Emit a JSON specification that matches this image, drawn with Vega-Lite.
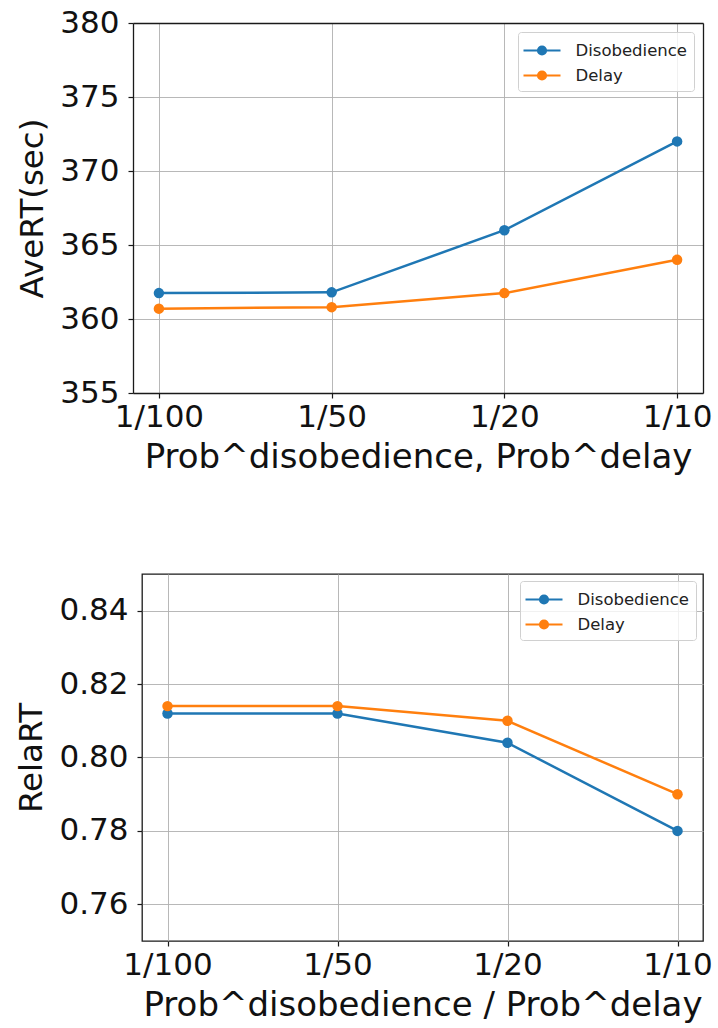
{
  "$schema": "https://vega.github.io/schema/vega-lite/v6.json",
  "padding": {"top": 7, "left": 15, "right": 4, "bottom": 4},
  "background": "white",
  "config": {
    "font": "DejaVu Sans",
    "view": {"stroke": "#1a1a1a", "strokeWidth": 1.3},
    "axis": {
      "labelFont": "DejaVu Sans", "labelFontSize": 31, "labelColor": "#111",
      "titleFont": "DejaVu Sans", "titleFontWeight": "normal", "titleColor": "#111",
      "gridColor": "#b0b0b0", "gridWidth": 1, "gridOpacity": 0.9,
      "tickColor": "#1a1a1a", "tickSize": 5, "tickWidth": 1.2,
      "domain": false, "domainColor": "#1a1a1a", "domainWidth": 1.3
    },
    "axisX": {"titleFontSize": 34},
    "axisY": {"titleFontSize": 32.5},
    "legend": {
      "labelFont": "DejaVu Sans", "labelFontSize": 16.5, "labelColor": "#222",
      "strokeColor": "#d0d0d0", "fillColor": "rgba(255,255,255,0.8)", "cornerRadius": 3,
      "padding": 7, "rowPadding": 5, "title": null
    }
  },
  "datasets": {
    "avert": [
      {"prob": "1/100", "series": "Disobedience", "value": 361.75},
      {"prob": "1/50", "series": "Disobedience", "value": 361.8},
      {"prob": "1/20", "series": "Disobedience", "value": 366.0},
      {"prob": "1/10", "series": "Disobedience", "value": 372.0},
      {"prob": "1/100", "series": "Delay", "value": 360.7},
      {"prob": "1/50", "series": "Delay", "value": 360.8},
      {"prob": "1/20", "series": "Delay", "value": 361.75},
      {"prob": "1/10", "series": "Delay", "value": 364.0}
    ],
    "relart": [
      {"prob": "1/100", "series": "Disobedience", "value": 0.812},
      {"prob": "1/50", "series": "Disobedience", "value": 0.812},
      {"prob": "1/20", "series": "Disobedience", "value": 0.804},
      {"prob": "1/10", "series": "Disobedience", "value": 0.78},
      {"prob": "1/100", "series": "Delay", "value": 0.814},
      {"prob": "1/50", "series": "Delay", "value": 0.814},
      {"prob": "1/20", "series": "Delay", "value": 0.81},
      {"prob": "1/10", "series": "Delay", "value": 0.79}
    ]
  },
  "concat": [
    {
      "width": 561, "height": 370,
      "view": {"stroke": null},
      "data": {"name": "avert"},
      "layer": [
        {"mark": {"type": "line", "strokeWidth": 2.5},
          "encoding": {
            "x": {"field": "prob", "type": "ordinal", "sort": ["1/100", "1/50", "1/20", "1/10"],
              "scale": {"type": "point", "padding": 0.15, "range": [-9, 561]},
              "axis": {"title": "Prob^disobedience, Prob^delay", "labelAngle": 0, "grid": true, "labelPadding": 4, "titlePadding": 8, "domain": true}},
            "y": {"field": "value", "type": "quantitative",
              "scale": {"domain": [355, 380], "nice": false, "zero": false},
              "axis": {"title": "AveRT(sec)", "values": [355, 360, 365, 370, 375, 380], "labelPadding": 9, "titlePadding": 10, "offset": 9, "domain": true}},
            "color": {"field": "series", "type": "nominal",
              "scale": {"domain": ["Disobedience", "Delay"], "range": ["#1f77b4", "#ff7f0e"]},
              "legend": {"orient": "top-right", "offset": 9,
                "symbolType": "M-1.85,0L1.85,0M-0.4,0A0.4,0.4 0 1,0 0.4,0A0.4,0.4 0 1,0 -0.4,0M-0.25,0A0.25,0.25 0 1,0 0.25,0A0.25,0.25 0 1,0 -0.25,0M-0.1,0A0.1,0.1 0 1,0 0.1,0A0.1,0.1 0 1,0 -0.1,0",
                "symbolSize": 400, "symbolStrokeWidth": 2.2, "symbolOffset": 5.5, "labelOffset": 22}}
          }},
        {"mark": {"type": "point", "filled": true, "size": 110, "opacity": 1},
          "encoding": {
            "x": {"field": "prob", "type": "ordinal", "sort": ["1/100", "1/50", "1/20", "1/10"],
              "axis": {"orient": "top", "labels": false, "ticks": false, "title": null, "grid": false, "domain": true}},
            "y": {"field": "value", "type": "quantitative",
              "axis": {"orient": "right", "labels": false, "ticks": false, "title": null, "grid": false, "domain": true}},
            "color": {"field": "series", "type": "nominal", "legend": null}
          }}
      ],
      "resolve": {"axis": {"x": "independent", "y": "independent"}}
    },
    {
      "width": 561, "height": 367,
      "data": {"name": "relart"},
      "encoding": {
        "x": {"field": "prob", "type": "ordinal", "sort": ["1/100", "1/50", "1/20", "1/10"],
          "scale": {"type": "point", "padding": 0.15},
          "axis": {"title": "Prob^disobedience / Prob^delay", "labelAngle": 0, "grid": true, "labelPadding": 4, "titlePadding": 8}},
        "y": {"field": "value", "type": "quantitative",
          "scale": {"domain": [0.75, 0.85], "nice": false, "zero": false},
          "axis": {"title": "RelaRT", "values": [0.76, 0.78, 0.8, 0.82, 0.84], "format": ".2f", "labelPadding": 9, "titlePadding": 10}}
      },
      "layer": [
        {"mark": {"type": "line", "strokeWidth": 2.5},
          "encoding": {"color": {"field": "series", "type": "nominal",
            "scale": {"domain": ["Disobedience", "Delay"], "range": ["#1f77b4", "#ff7f0e"]},
            "legend": {"orient": "top-right", "offset": 7,
              "symbolType": "M-1.85,0L1.85,0M-0.4,0A0.4,0.4 0 1,0 0.4,0A0.4,0.4 0 1,0 -0.4,0M-0.25,0A0.25,0.25 0 1,0 0.25,0A0.25,0.25 0 1,0 -0.25,0M-0.1,0A0.1,0.1 0 1,0 0.1,0A0.1,0.1 0 1,0 -0.1,0",
              "symbolSize": 400, "symbolStrokeWidth": 2.2, "symbolOffset": 5.5, "labelOffset": 22}}}},
        {"mark": {"type": "point", "filled": true, "size": 110, "opacity": 1},
          "encoding": {"color": {"field": "series", "type": "nominal", "legend": null}}}
      ]
    }
  ],
  "columns": 1,
  "align": "none",
  "spacing": 99,
  "resolve": {"scale": {"color": "independent"}, "legend": {"color": "independent"}}
}
